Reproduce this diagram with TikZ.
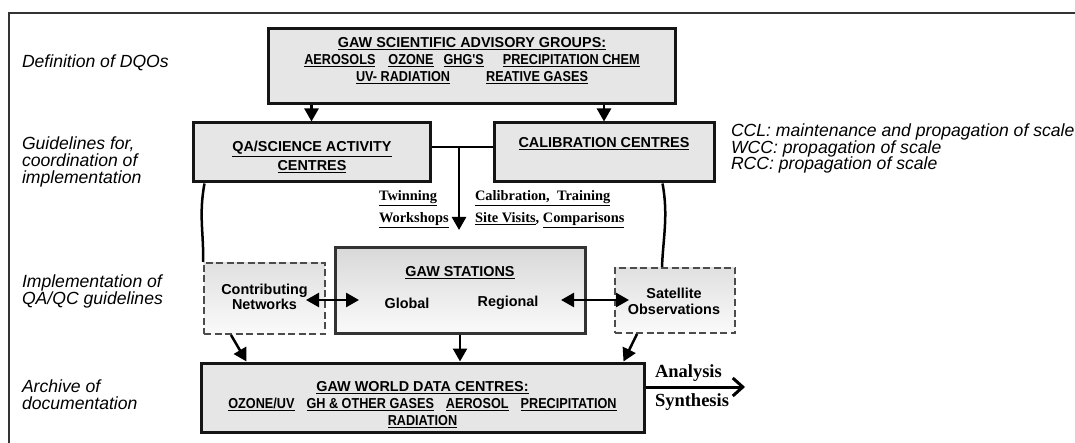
\documentclass[tikz,border=0pt]{standalone}
\usepackage{fontspec}
\setmainfont{Liberation Sans}
\newfontfamily\narrowsans{Liberation Sans}[FakeStretch=0.88]
\newfontfamily\timesfont{Liberation Serif}
\usetikzlibrary{arrows.meta}
% thick underline placed just below the text
\newcommand\undl[1]{\vtop{\hbox{#1}\kern1.3pt\hrule height1.2pt}}
\newcommand\nbf{\narrowsans\bfseries\fontsize{14.4}{17}\selectfont}
\definecolor{boxgray}{HTML}{E6E6E6}
\definecolor{edge}{HTML}{151515}
\begin{document}
\begin{tikzpicture}[x=1pt,y=-1pt,
  box/.style={draw=edge,line width=3pt,fill=boxgray,inner sep=0pt},
  gradbox/.style={draw=black!80,line width=3pt,top color=black!15,bottom color=black!2,inner sep=0pt},
  dashbox/.style={draw=black!70,line width=2pt,dash pattern=on 7pt off 3.5pt,top color=black!12,bottom color=black!2,inner sep=0pt},
  txt/.style={inner sep=0pt,outer sep=0pt,text=black},
  hdr/.style={txt,font=\bfseries\fontsize{14.4}{17}\selectfont,align=center},
  side/.style={txt,font=\itshape\fontsize{17.6}{16.9}\selectfont,align=left,anchor=west},
  serifb/.style={txt,font=\timesfont\bfseries\fontsize{14.4}{22}\selectfont,align=left,anchor=west},
  arr/.style={line width=2.5pt,draw=black,-{Triangle[width=14pt,length=13pt]}},
  darr/.style={line width=2.5pt,draw=black,{Triangle[width=14pt,length=13pt]}-{Triangle[width=14pt,length=13pt]}},
  conn/.style={line width=2.5pt,draw=black},
  outarr/.style={line width=3pt,draw=black,-{Straight Barb[width=18pt,length=10pt]}}
]
\useasboundingbox (0,0) rectangle (1075,443);

% open frame
\draw[line width=1.4pt,black!80] (9,443) -- (9,13) -- (1075,13);

% boxes
\node[box,minimum width=407pt,minimum height=75pt] (top) at (471.5,66.5) {};
\node[box,minimum width=237pt,minimum height=59pt] (qa) at (311.5,152.5) {};
\node[box,minimum width=220pt,minimum height=59pt] (cal) at (604,152.5) {};
\node[gradbox,minimum width=250pt,minimum height=85pt] (stations) at (460,290.5) {};
\node[dashbox,minimum width=121pt,minimum height=71pt] (contrib) at (264.5,298.5) {};
\node[dashbox,minimum width=120pt,minimum height=65pt] (sat) at (675,300.5) {};
\node[box,minimum width=443pt,minimum height=69pt] (archive) at (422.5,397.5) {};

% box texts
\node[hdr] (toptxt) at (472,61) {\undl{GAW SCIENTIFIC ADVISORY GROUPS:}\\
  {\nbf\undl{AEROSOLS}\hspace{13pt}\undl{OZONE}\hspace{10pt}\undl{GHG'S}\hspace{19pt}\undl{PRECIPITATION CHEM}}\\
  {\nbf\undl{UV- RADIATION}\hspace{36pt}\undl{REATIVE GASES}}};
\node[hdr,font=\bfseries\fontsize{14.4}{19}\selectfont] (qatxt) at (312,157) {\undl{QA/SCIENCE ACTIVITY}\\\undl{CENTRES}};
\node[hdr] (caltxt) at (604,144) {\undl{CALIBRATION CENTRES}};
\node[hdr] (sttxt) at (460,273) {\undl{GAW STATIONS}};
\node[hdr] (glob) at (407,303) {Global};
\node[hdr] (reg) at (508,303) {Regional};
\node[hdr,font=\bfseries\fontsize{14.4}{15.5}\selectfont] (contxt) at (264.5,297) {Contributing\\Networks};
\node[hdr,font=\bfseries\fontsize{14.4}{16.5}\selectfont] (sattxt) at (674,301.5) {Satellite\\Observations};
\node[hdr] (archtxt) at (422.5,404.5) {\undl{GAW WORLD DATA CENTRES:}\\
  {\nbf\undl{OZONE/UV}\hspace{12pt}\undl{GH \& OTHER GASES}\hspace{12pt}\undl{AEROSOL}\hspace{12pt}\undl{PRECIPITATION}}\\
  {\nbf\undl{RADIATION}}};

% activity labels
\node[serifb] (twin) at (379,209) {\undl{Twinning}\\\undl{Workshops}};
\node[serifb] (calib) at (475,209) {\undl{Calibration,\ \ Training}\\\undl{Site Visits}, \undl{Comparisons}};

% side descriptions
\node[side] (l1) at (22,63) {Definition of DQOs};
\node[side] (l2) at (22,162) {Guidelines for,\\coordination of\\implementation};
\node[side] (l3) at (22,291) {Implementation of\\QA/QC guidelines};
\node[side] (l4) at (22,395) {Archive of\\documentation};
\node[side] (r1) at (731,148.5) {CCL: maintenance and propagation of scale\\WCC: propagation of scale\\RCC: propagation of scale};

% connectors
\draw[arr] (top.south -| qa.north) -- (qa.north);
\draw[arr] (top.south -| cal.north) -- (cal.north);
\coordinate (junc) at (459,147);
\coordinate (drop) at (459,230);
\draw[conn] (qa.east |- junc) -- (cal.west |- junc);
\draw[arr] (junc) -- (drop);
\draw[conn] ([xshift=13pt]qa.south west) .. controls +(-6,32) and +(1,-28) .. (contrib.north west);
\draw[conn] ([xshift=-53pt]cal.south east) .. controls +(6,32) and +(1,-28) .. ([xshift=48pt]sat.north west);
\coordinate (la) at (306,300);
\coordinate (lb) at (359,300);
\coordinate (ra) at (561,300);
\coordinate (rb) at (629,300);
\draw[darr] (la) -- (lb);
\draw[darr] (ra) -- (rb);
\draw[arr] ([xshift=28pt]contrib.south west) -- ([xshift=47pt]archive.north west);
\draw[arr] (stations.south) -- (archive.north -| stations.south);
\draw[arr] ([xshift=23pt]sat.south west) -- ([xshift=-22pt]archive.north east);
\coordinate (out) at (745,387);
\draw[outarr] (archive.east |- out) -- (out);
\node[serifb,font=\timesfont\bfseries\fontsize{18.5}{20}\selectfont] (ana) at (655,373) {Analysis};
\node[serifb,font=\timesfont\bfseries\fontsize{18.5}{20}\selectfont] (syn) at (655,402) {Synthesis};
\end{tikzpicture}
\end{document}
